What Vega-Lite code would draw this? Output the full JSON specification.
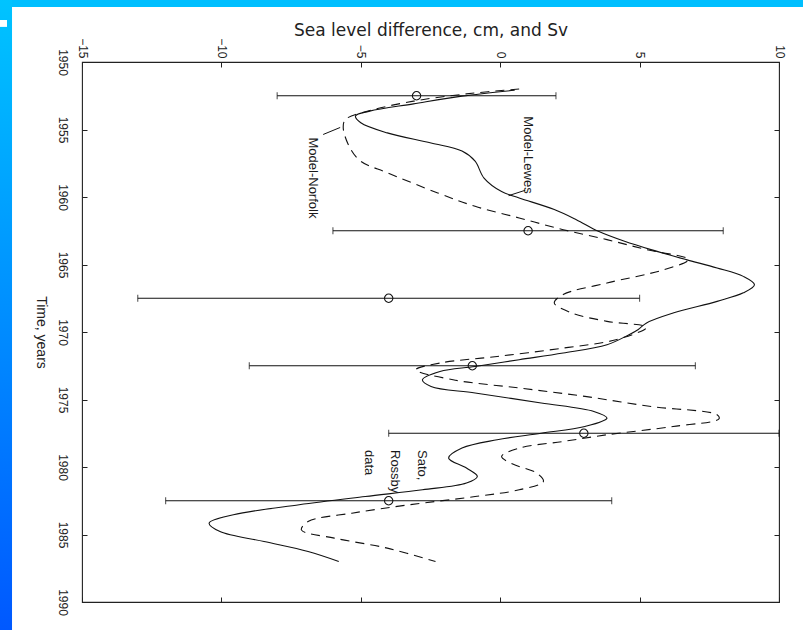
{
  "$schema": "https://vega.github.io/schema/vega-lite/v6.json",
  "width": 697,
  "height": 540,
  "autosize": "none",
  "padding": {"left": 82, "top": 62, "right": 24, "bottom": 28},
  "background": "white",
  "config": {"view": {"stroke": "#222222", "strokeWidth": 1.1}, "font": "Liberation Sans"},
  "datasets": {
    "lewes": [
      {"year": 1952.09, "value": 0.52}, {"year": 1952.53, "value": -1.37}, {"year": 1953.10, "value": -3.11},
      {"year": 1953.64, "value": -4.68}, {"year": 1954.0, "value": -5.19}, {"year": 1954.5, "value": -5.0},
      {"year": 1955.25, "value": -4.05}, {"year": 1956.0, "value": -2.48}, {"year": 1956.6, "value": -1.37},
      {"year": 1957.35, "value": -0.9}, {"year": 1958.6, "value": -0.58}, {"year": 1959.6, "value": 0.05},
      {"year": 1960.07, "value": 0.68}, {"year": 1960.93, "value": 1.94}, {"year": 1961.68, "value": 2.73},
      {"year": 1962.54, "value": 3.52}, {"year": 1963.28, "value": 4.46}, {"year": 1963.9, "value": 5.41},
      {"year": 1964.64, "value": 6.67}, {"year": 1965.26, "value": 7.78}, {"year": 1965.88, "value": 8.72},
      {"year": 1966.5, "value": 9.12}, {"year": 1967.1, "value": 8.72}, {"year": 1967.73, "value": 7.78},
      {"year": 1968.6, "value": 6.2}, {"year": 1969.33, "value": 5.25}, {"year": 1969.83, "value": 4.94},
      {"year": 1970.2, "value": 4.62}, {"year": 1970.94, "value": 3.83}, {"year": 1971.56, "value": 2.26},
      {"year": 1972.05, "value": 0.68}, {"year": 1972.55, "value": -0.9}, {"year": 1972.92, "value": -2.16},
      {"year": 1973.54, "value": -2.79}, {"year": 1974.03, "value": -2.48}, {"year": 1974.52, "value": -0.9},
      {"year": 1975.26, "value": 1.47}, {"year": 1975.89, "value": 3.36}, {"year": 1976.38, "value": 3.83},
      {"year": 1977.0, "value": 3.04}, {"year": 1977.5, "value": 1.47}, {"year": 1977.98, "value": -0.11},
      {"year": 1978.6, "value": -1.37}, {"year": 1979.34, "value": -1.85}, {"year": 1980.08, "value": -1.21},
      {"year": 1980.7, "value": -0.82}, {"year": 1981.19, "value": -1.21}, {"year": 1981.69, "value": -2.79},
      {"year": 1982.19, "value": -4.84}, {"year": 1982.8, "value": -7.21}, {"year": 1983.54, "value": -9.57},
      {"year": 1984.16, "value": -10.44}, {"year": 1984.78, "value": -10.05}, {"year": 1985.52, "value": -8.47},
      {"year": 1986.26, "value": -6.89}, {"year": 1987.0, "value": -5.79}
    ],
    "norfolk": [
      {"year": 1952.0, "value": 0.68}, {"year": 1952.36, "value": -1.21}, {"year": 1952.9, "value": -3.11},
      {"year": 1953.6, "value": -4.68}, {"year": 1954.26, "value": -5.55}, {"year": 1954.88, "value": -5.63},
      {"year": 1956.36, "value": -5.39}, {"year": 1957.35, "value": -5.0}, {"year": 1958.2, "value": -4.05},
      {"year": 1959.7, "value": -2.24}, {"year": 1960.69, "value": -0.9}, {"year": 1961.55, "value": 0.68},
      {"year": 1962.42, "value": 2.26}, {"year": 1963.16, "value": 3.83}, {"year": 1963.9, "value": 5.25},
      {"year": 1964.64, "value": 6.75}, {"year": 1965.38, "value": 5.88}, {"year": 1966.37, "value": 3.83},
      {"year": 1967.23, "value": 2.26}, {"year": 1967.85, "value": 1.94}, {"year": 1968.59, "value": 2.57},
      {"year": 1969.21, "value": 3.83}, {"year": 1969.65, "value": 5.25}, {"year": 1970.57, "value": 4.15},
      {"year": 1971.19, "value": 2.26}, {"year": 1971.81, "value": -0.11}, {"year": 1972.3, "value": -2.16},
      {"year": 1972.8, "value": -3.03}, {"year": 1973.54, "value": -1.69}, {"year": 1974.15, "value": 0.68},
      {"year": 1974.77, "value": 3.04}, {"year": 1975.52, "value": 5.41}, {"year": 1976.13, "value": 7.78},
      {"year": 1976.43, "value": 7.85}, {"year": 1977.0, "value": 6.2}, {"year": 1977.61, "value": 3.83},
      {"year": 1978.11, "value": 2.26}, {"year": 1978.6, "value": 0.68}, {"year": 1979.22, "value": 0.05},
      {"year": 1979.78, "value": 0.45}, {"year": 1980.45, "value": 1.31}, {"year": 1981.07, "value": 1.55},
      {"year": 1981.69, "value": 0.68}, {"year": 1982.19, "value": -0.9}, {"year": 1982.8, "value": -3.27},
      {"year": 1983.42, "value": -5.32}, {"year": 1984.04, "value": -6.89}, {"year": 1984.66, "value": -7.13},
      {"year": 1985.27, "value": -5.95}, {"year": 1986.01, "value": -4.05}, {"year": 1987.0, "value": -2.32}
    ],
    "obs": [
      {"year": 1952.5, "value": -3, "lo": -8, "hi": 2},
      {"year": 1962.5, "value": 1, "lo": -6, "hi": 8},
      {"year": 1967.5, "value": -4, "lo": -13, "hi": 5},
      {"year": 1972.5, "value": -1, "lo": -9, "hi": 7},
      {"year": 1977.5, "value": 3, "lo": -4, "hi": 10},
      {"year": 1982.5, "value": -4, "lo": -12, "hi": 4}
    ],
    "labels": [
      {"label": "Model-Lewes", "year": 1956.89, "value": 1.0},
      {"label": "Model-Norfolk", "year": 1958.59, "value": -6.71}
    ],
    "sato": [
      {"label": "Sato,\nRossby\ndata", "year": 1978.74, "value": -2.59}
    ],
    "leaders": [
      {"x1": -6.35, "y1": 1955.37, "x2": -5.74, "y2": 1954.85},
      {"x1": 0.3, "y1": 1959.9, "x2": 0.9, "y2": 1959.5}
    ]
  },
  "resolve": {"axis": {"x": "independent", "y": "independent"}},
  "layer": [
    {
      "data": {"values": [{}]},
      "mark": {"type": "rect", "fill": "#00BFFF"},
      "encoding": {
        "x": {"datum": -18.1, "type": "quantitative", "scale": {"domain": [-15, 10], "nice": false, "zero": false}, "axis": null},
        "x2": {"datum": 11},
        "y": {"datum": 1945.3, "type": "quantitative", "scale": {"domain": [1950, 1990], "reverse": true, "nice": false, "zero": false}, "axis": null},
        "y2": {"datum": 1945.93}
      }
    },
    {
      "data": {"values": [{}]},
      "mark": {"type": "rect", "fill": {"gradient": "linear", "x1": 0, "y1": 0, "x2": 0, "y2": 1, "stops": [{"offset": 0, "color": "#00C4FF"}, {"offset": 1, "color": "#0058FF"}]}},
      "encoding": {
        "x": {"datum": -18.1, "type": "quantitative", "scale": {"domain": [-15, 10], "nice": false, "zero": false}, "axis": null},
        "x2": {"datum": -17.51},
        "y": {"datum": 1945.3, "type": "quantitative", "scale": {"domain": [1950, 1990], "reverse": true, "nice": false, "zero": false}, "axis": null},
        "y2": {"datum": 1992.2}
      }
    },
    {
      "data": {"values": [{}]},
      "mark": {"type": "rect", "fill": "white"},
      "encoding": {
        "x": {"datum": -18.1, "type": "quantitative", "scale": {"domain": [-15, 10], "nice": false, "zero": false}, "axis": null},
        "x2": {"datum": -17.69},
        "y": {"datum": 1946.89, "type": "quantitative", "scale": {"domain": [1950, 1990], "reverse": true, "nice": false, "zero": false}, "axis": null},
        "y2": {"datum": 1947.4}
      }
    },
    {
      "data": {"name": "lewes"},
      "mark": {"type": "line", "color": "#111111", "strokeWidth": 1.1, "interpolate": "catmull-rom"},
      "encoding": {
        "x": {"field": "value", "type": "quantitative", "scale": {"domain": [-15, 10], "nice": false, "zero": false},
          "axis": {"orient": "top", "title": "Sea level difference, cm, and Sv", "values": [-15, -10, -5, 0, 5, 10],
            "offset": -5, "labelAngle": 90, "labelAlign": "right", "labelBaseline": "middle", "labelPadding": 4, "tickSize": 5, "tickWidth": 1,
            "tickColor": "#222222", "domain": false, "grid": false, "labelFont": "Liberation Sans", "labelFontSize": 12,
            "labelColor": "#222222", "labelFlush": false, "labelOverlap": false,
            "titleFont": "DejaVu Sans", "titleFontSize": 17, "titleFontWeight": "normal", "titleColor": "#222222",
            "titleY": -32, "titleBaseline": "alphabetic"}},
        "y": {"field": "year", "type": "quantitative", "scale": {"domain": [1950, 1990], "reverse": true, "nice": false, "zero": false},
          "axis": {"orient": "left", "title": "Time, years", "values": [1950, 1955, 1960, 1965, 1970, 1975, 1980, 1985, 1990], "format": "d",
            "offset": -5, "labelAngle": 90, "labelAlign": "center", "labelBaseline": "top", "labelPadding": 15, "tickSize": 5, "tickWidth": 1,
            "tickColor": "#222222", "domain": false, "grid": false, "labelFont": "Liberation Sans", "labelFontSize": 12,
            "labelColor": "#222222", "labelFlush": false, "labelOverlap": false,
            "titleAngle": 90, "titleX": -47, "titleY": 270, "titleAlign": "center", "titleBaseline": "middle",
            "titleFont": "Liberation Sans", "titleFontSize": 14, "titleFontWeight": "normal", "titleColor": "#222222"}},
        "order": {"field": "year", "type": "quantitative"}
      }
    },
    {
      "data": {"name": "norfolk"},
      "mark": {"type": "line", "color": "#111111", "strokeWidth": 1.1, "strokeDash": [9, 6], "interpolate": "catmull-rom"},
      "encoding": {
        "x": {"field": "value", "type": "quantitative", "scale": {"domain": [-15, 10], "nice": false, "zero": false},
          "axis": {"orient": "bottom", "title": null, "values": [-15, -10, -5, 0, 5, 10], "labels": false, "offset": -5, "tickSize": 5, "tickWidth": 1,
            "tickColor": "#222222", "domain": false, "grid": false}},
        "y": {"field": "year", "type": "quantitative", "scale": {"domain": [1950, 1990], "reverse": true, "nice": false, "zero": false},
          "axis": {"orient": "right", "title": null, "values": [1950, 1955, 1960, 1965, 1970, 1975, 1980, 1985, 1990], "labels": false, "offset": -5, "tickSize": 5, "tickWidth": 1,
            "tickColor": "#222222", "domain": false, "grid": false}},
        "order": {"field": "year", "type": "quantitative"}
      }
    },
    {
      "data": {"name": "obs"},
      "mark": {"type": "rule", "color": "#111111", "strokeWidth": 1.1},
      "encoding": {
        "x": {"field": "lo", "type": "quantitative", "scale": {"domain": [-15, 10], "nice": false, "zero": false}, "axis": null},
        "x2": {"field": "hi"},
        "y": {"field": "year", "type": "quantitative", "scale": {"domain": [1950, 1990], "reverse": true, "nice": false, "zero": false}, "axis": null}
      }
    },
    {
      "data": {"name": "obs"},
      "mark": {"type": "tick", "orient": "vertical", "color": "#111111", "size": 7, "thickness": 1.1},
      "encoding": {
        "x": {"field": "lo", "type": "quantitative", "scale": {"domain": [-15, 10], "nice": false, "zero": false}, "axis": null},
        "y": {"field": "year", "type": "quantitative", "scale": {"domain": [1950, 1990], "reverse": true, "nice": false, "zero": false}, "axis": null}
      }
    },
    {
      "data": {"name": "obs"},
      "mark": {"type": "tick", "orient": "vertical", "color": "#111111", "size": 7, "thickness": 1.1},
      "encoding": {
        "x": {"field": "hi", "type": "quantitative", "scale": {"domain": [-15, 10], "nice": false, "zero": false}, "axis": null},
        "y": {"field": "year", "type": "quantitative", "scale": {"domain": [1950, 1990], "reverse": true, "nice": false, "zero": false}, "axis": null}
      }
    },
    {
      "data": {"name": "obs"},
      "mark": {"type": "point", "shape": "circle", "filled": false, "color": "#111111", "size": 70, "strokeWidth": 1.1, "opacity": 1},
      "encoding": {
        "x": {"field": "value", "type": "quantitative", "scale": {"domain": [-15, 10], "nice": false, "zero": false}, "axis": null},
        "y": {"field": "year", "type": "quantitative", "scale": {"domain": [1950, 1990], "reverse": true, "nice": false, "zero": false}, "axis": null}
      }
    },
    {
      "data": {"name": "leaders"},
      "mark": {"type": "rule", "color": "#111111", "strokeWidth": 1},
      "encoding": {
        "x": {"field": "x1", "type": "quantitative", "scale": {"domain": [-15, 10], "nice": false, "zero": false}, "axis": null},
        "x2": {"field": "x2"},
        "y": {"field": "y1", "type": "quantitative", "scale": {"domain": [1950, 1990], "reverse": true, "nice": false, "zero": false}, "axis": null},
        "y2": {"field": "y2"}
      }
    },
    {
      "data": {"name": "labels"},
      "mark": {"type": "text", "angle": 90, "align": "center", "baseline": "middle", "font": "Liberation Sans", "fontSize": 13, "color": "#1a1a1a"},
      "encoding": {
        "x": {"field": "value", "type": "quantitative", "scale": {"domain": [-15, 10], "nice": false, "zero": false}, "axis": null},
        "y": {"field": "year", "type": "quantitative", "scale": {"domain": [1950, 1990], "reverse": true, "nice": false, "zero": false}, "axis": null},
        "text": {"field": "label"}
      }
    },
    {
      "data": {"name": "sato"},
      "mark": {"type": "text", "angle": 90, "align": "left", "baseline": "top", "lineBreak": "\n", "lineHeight": 26.5, "font": "Liberation Sans", "fontSize": 13, "color": "#1a1a1a"},
      "encoding": {
        "x": {"field": "value", "type": "quantitative", "scale": {"domain": [-15, 10], "nice": false, "zero": false}, "axis": null},
        "y": {"field": "year", "type": "quantitative", "scale": {"domain": [1950, 1990], "reverse": true, "nice": false, "zero": false}, "axis": null},
        "text": {"field": "label"}
      }
    }
  ]
}
